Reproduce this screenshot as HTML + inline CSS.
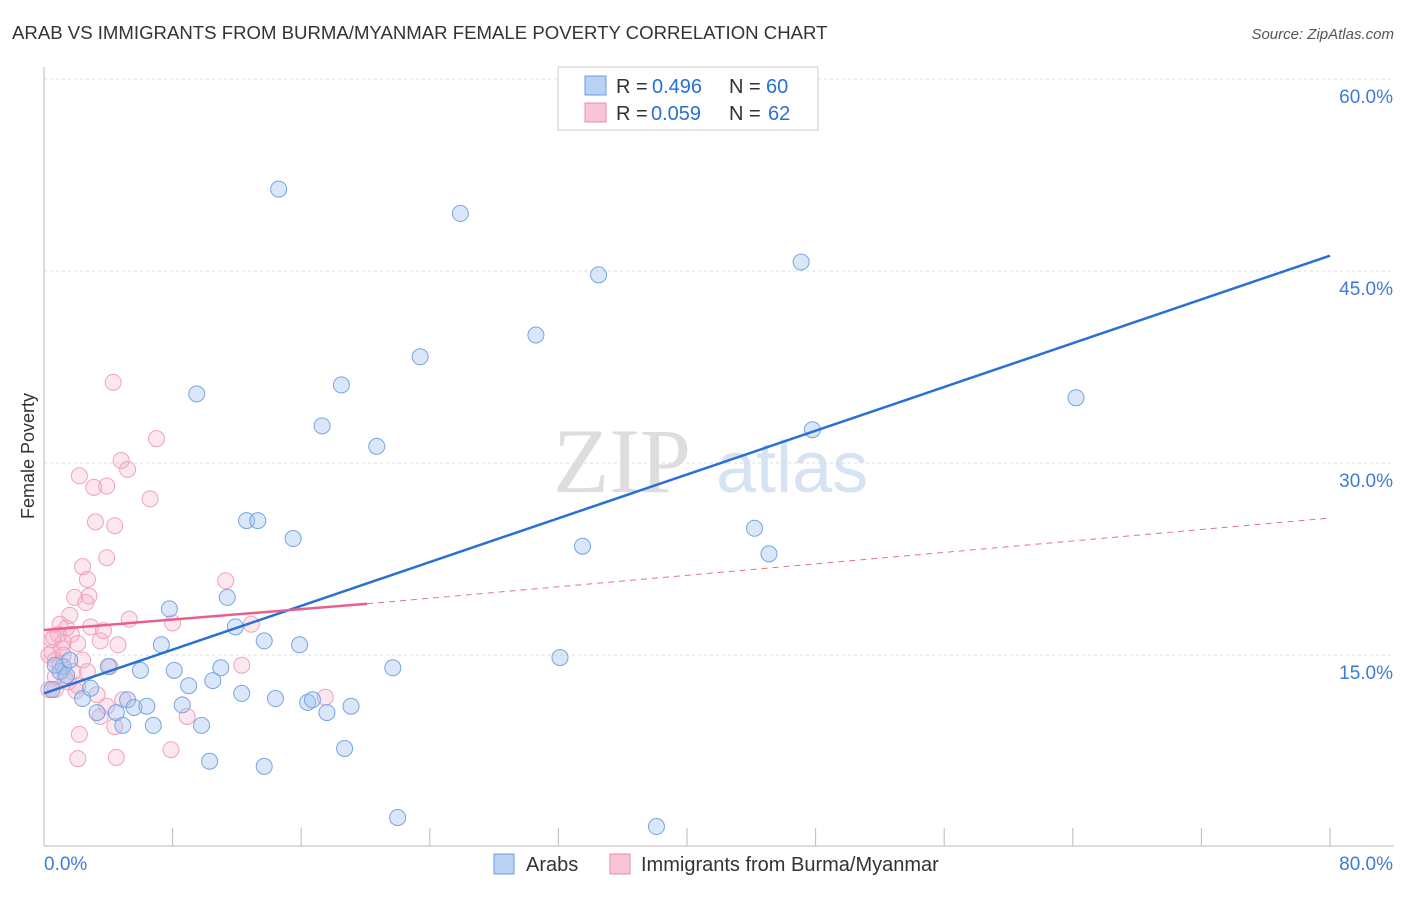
<!DOCTYPE html>
<html><head><meta charset="utf-8"><style>
body{margin:0;background:#fff;font-family:"Liberation Sans",sans-serif;}
svg text{font-family:"Liberation Sans",sans-serif;}
</style></head><body>
<svg id="chart" width="1406" height="892">
<text x="12" y="39" font-size="18.6" fill="#333">ARAB VS IMMIGRANTS FROM BURMA/MYANMAR FEMALE POVERTY CORRELATION CHART</text>
<text x="1394" y="39" font-size="15" fill="#555" font-style="italic" text-anchor="end">Source: ZipAtlas.com</text>
<text x="34" y="456" font-size="18" fill="#333" text-anchor="middle" transform="rotate(-90 34 456)">Female Poverty</text>
<g>
<text x="553" y="492" font-size="92" fill="#ddd" font-family="Liberation Serif" style="font-family:'Liberation Serif',serif">ZIP</text>
<text x="716" y="492" font-size="72" fill="#d5e3f3">atlas</text>
</g>
<g id="grid"></g><g id="axes"></g><g id="marks"></g>
<g>
<rect x="558" y="67" width="260" height="63" fill="#fff" stroke="#ccc"/>
<rect x="585" y="76" width="21" height="19" fill="#b8d2f3" stroke="#6a9be0"/>
<rect x="585" y="103" width="21" height="19" fill="#f9c4d4" stroke="#e890aa"/>
<text x="616" y="93" font-size="20" fill="#333">R =</text>
<text x="652" y="93" font-size="20" fill="#2a6fd6">0.496</text>
<text x="729" y="93" font-size="20" fill="#333">N =</text>
<text x="766" y="93" font-size="20" fill="#2a6fd6">60</text>
<text x="616" y="120" font-size="20" fill="#333">R =</text>
<text x="651" y="120" font-size="20" fill="#2a6fd6">0.059</text>
<text x="729" y="120" font-size="20" fill="#333">N =</text>
<text x="768" y="120" font-size="20" fill="#2a6fd6">62</text>
</g>
<g>
<rect x="494" y="854" width="20" height="20" fill="#b8d2f3" stroke="#6a9be0"/>
<text x="526" y="871" font-size="20" fill="#333">Arabs</text>
<rect x="610" y="854" width="20" height="20" fill="#f9c4d4" stroke="#e890aa"/>
<text x="641" y="871" font-size="20" fill="#333">Immigrants from Burma/Myanmar</text>
</g>
</svg>
<script>
const yTicks=[15,30,45,60];
const yTickLabels=["15.0%","30.0%","45.0%","60.0%"];
const xEndLabels=["0.0%","80.0%"];
const arabX=[14.6,25.9,34.5,47.1,30.6,23.4,18.5,9.5,17.3,20.7,64.2,47.8,12.6,13.3,15.5,44.2,33.5,45.1,7.8,11.4,11.9,13.7,15.9,7.3,32.1,21.7,4.0,6.0,8.1,11.0,10.5,9.0,12.3,14.4,16.4,16.7,19.1,17.6,5.2,2.4,3.3,4.5,5.6,6.4,8.6,6.8,9.8,4.9,18.7,10.3,13.7,22.0,38.1,1.2,1.0,0.7,1.6,1.4,0.5,2.9];
const arabY=[51.4,49.5,44.7,45.7,40.0,38.3,36.1,35.4,32.9,31.3,35.1,32.6,25.5,25.5,24.1,24.9,23.5,22.9,18.6,19.5,17.2,16.1,15.8,15.8,14.8,14.0,14.1,13.8,13.8,14.0,13.0,12.6,12.0,11.6,11.3,11.5,11.0,10.5,11.5,11.6,10.5,10.5,10.9,11.0,11.1,9.5,9.5,9.5,7.7,6.7,6.3,2.3,1.6,14.1,13.7,14.2,14.6,13.4,12.3,12.4];
const burX=[4.3,7.0,4.8,5.2,2.2,3.1,3.9,6.6,3.2,4.4,3.9,2.4,2.7,11.3,1.9,2.8,2.6,1.6,5.3,8.0,12.9,1.0,1.4,2.9,3.7,0.9,1.7,0.6,1.2,3.5,4.6,2.1,0.5,1.1,2.4,1.0,4.1,12.3,2.7,0.7,1.5,2.1,0.3,0.7,3.3,4.9,3.9,17.5,3.5,8.9,4.4,2.2,7.9,2.1,4.5,0.3,1.2,1.8,0.7,0.5,2.0,1.3];
const burY=[36.3,31.9,30.2,29.5,29.0,28.1,28.2,27.2,25.4,25.1,22.6,21.9,20.9,20.8,19.5,19.6,19.1,18.1,17.8,17.5,17.4,17.4,17.1,17.2,16.9,16.6,16.6,16.4,16.0,16.1,15.8,15.9,15.2,15.5,14.6,14.2,14.1,14.2,13.7,13.3,12.9,12.6,12.3,12.3,11.9,11.5,11.0,11.7,10.2,10.2,9.4,8.8,7.6,6.9,7.0,15.0,15.0,13.7,14.6,16.2,12.2,13.2];
const arabTrend=[12.0,46.2];
const burTrend=[16.95,19.0,25.7];
const burSolidEnd=20.1;
const NS="http://www.w3.org/2000/svg";
const sx=v=>44+v*16.075, sy=v=>847-v*12.8;
function mk(tag,attrs,parent){const e=document.createElementNS(NS,tag);for(const k in attrs)e.setAttribute(k,attrs[k]);parent.appendChild(e);return e;}
const grid=document.getElementById('grid'),axes=document.getElementById('axes'),marks=document.getElementById('marks');
yTicks.forEach((t,i)=>{
 const l=mk('line',{x1:44,x2:1394,y1:sy(t),y2:sy(t),stroke:'#ddd','stroke-dasharray':'3,3'},grid);
 
 
 const tx=mk('text',{x:1393,y:sy(t)+24,'font-size':19,fill:'#3d7bd9','text-anchor':'end'},axes);
 tx.textContent=yTickLabels[i];
 
 
});
const xa=mk('line',{x1:44,x2:1394,y1:846,y2:846,stroke:'#bbb'},axes);


const ya=mk('line',{x1:44,x2:44,y1:67,y2:846,stroke:'#bbb'},axes);


for(let v=8;v<=80;v+=8){const t=mk('line',{x1:sx(v),x2:sx(v),y1:828,y2:846,stroke:'#bbb'},axes);
 
 }
[[0,'start'],[80,'end']].forEach((p,i)=>{const t=mk('text',{x:i?1393:44,y:870,'font-size':19,fill:'#3d7bd9','text-anchor':p[1]},axes);t.textContent=xEndLabels[i];
 
 });
burX.forEach((x,i)=>{const c=mk('circle',{cx:sx(x),cy:sy(burY[i]),r:8,fill:'rgba(245,175,198,0.3)',stroke:'#eea4bb','stroke-width':1},marks);
 
 });
arabX.forEach((x,i)=>{const c=mk('circle',{cx:sx(x),cy:sy(arabY[i]),r:8,fill:'rgba(160,196,240,0.4)',stroke:'#78a4e2','stroke-width':1},marks);
 
 });
const bl=mk('line',{x1:sx(0),y1:sy(arabTrend[0]),x2:sx(80),y2:sy(arabTrend[1]),stroke:'#2a6fd6','stroke-width':2.5},marks);


const pd=mk('line',{x1:sx(burSolidEnd),y1:sy(burTrend[1]),x2:sx(80),y2:sy(burTrend[2]),stroke:'#e8708f','stroke-width':1,'stroke-dasharray':'6,5'},marks);


const ps=mk('line',{x1:sx(0),y1:sy(burTrend[0]),x2:sx(burSolidEnd),y2:sy(burTrend[1]),stroke:'#e8608a','stroke-width':2.5},marks);


</script>
</body></html>
